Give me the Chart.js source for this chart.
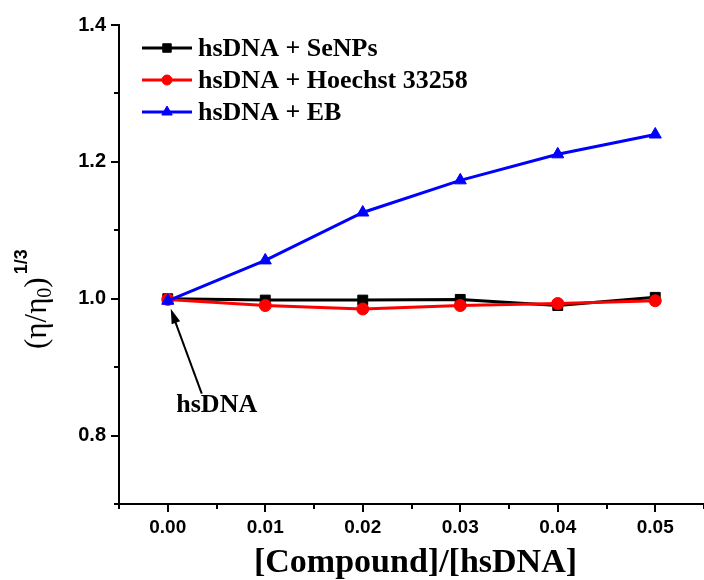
<!DOCTYPE html>
<html>
<head>
<meta charset="utf-8">
<script src="https://cdn.jsdelivr.net/npm/chart.js@4"></script>
<style>
  html, body { margin: 0; padding: 0; background: #fff; overflow: hidden; }
  #wrap { width: 712px; height: 580px; }
</style>
</head>
<body>
<div id="wrap"><canvas id="c" width="712" height="580"></canvas></div>
<script>
// ---- data ----
const ratios = [0.00, 0.01, 0.02, 0.03, 0.04, 0.05];
const seNPs = [1.000, 0.998, 0.998, 0.999, 0.990, 1.002];
const hoechst = [0.999, 0.990, 0.985, 0.990, 0.993, 0.997];
const eb = [0.997, 1.056, 1.126, 1.173, 1.211, 1.240];
const seriesNames = ['hsDNA + SeNPs', 'hsDNA + Hoechst 33258', 'hsDNA + EB'];
const xTickValues = [0.00, 0.01, 0.02, 0.03, 0.04, 0.05];
const xMinorValues = [-0.005, 0.005, 0.015, 0.025, 0.035, 0.045, 0.055];
const yTickValues = [0.8, 1.0, 1.2, 1.4];
const yMinorValues = [0.7, 0.9, 1.1, 1.3];
const xTitle = '[Compound]/[hsDNA]';
const annotationText = 'hsDNA';

const pts = (ys) => ratios.map((x, i) => ({ x: x, y: ys[i] }));

const serif = '"Liberation Serif", "Times New Roman", serif';
const sans = '"Liberation Sans", Arial, sans-serif';

const extras = {
  id: 'extras',
  afterDraw(chart) {
    const ctx = chart.ctx;
    const xs = chart.scales.x, ys = chart.scales.y;
    const area = chart.chartArea;
    ctx.save();
    // ticks
    ctx.strokeStyle = '#000';
    ctx.lineWidth = 2;
    ctx.beginPath();
    xTickValues.forEach(v => { const p = Math.round(xs.getPixelForValue(v)); ctx.moveTo(p, area.bottom); ctx.lineTo(p, area.bottom + 8); });
    xMinorValues.forEach(v => { const p = Math.round(xs.getPixelForValue(v)); ctx.moveTo(p, area.bottom); ctx.lineTo(p, area.bottom + 5); });
    yTickValues.forEach(v => { const p = Math.round(ys.getPixelForValue(v)); ctx.moveTo(area.left, p); ctx.lineTo(area.left - 8, p); });
    yMinorValues.forEach(v => { const p = Math.round(ys.getPixelForValue(v)); ctx.moveTo(area.left, p); ctx.lineTo(area.left - 5, p); });
    ctx.stroke();

    // y title (rotated, reads bottom to top)
    ctx.save();
    ctx.translate(46, 349);
    ctx.rotate(-Math.PI / 2);
    ctx.fillStyle = '#000';
    ctx.textBaseline = 'alphabetic';
    ctx.textAlign = 'left';
    const mainFont = '31px ' + serif;
    const subFont = '20px ' + serif;
    const supFont = 'bold 18px ' + sans;
    let cx = 0;
    const p1 = '(\u03B7/\u03B7';
    ctx.font = mainFont; ctx.fillText(p1, cx, 0); cx += ctx.measureText(p1).width;
    ctx.font = subFont; ctx.fillText('0', cx, 5); cx += ctx.measureText('0').width;
    ctx.font = mainFont; ctx.fillText(')', cx, 0); cx += ctx.measureText(')').width + 3;
    ctx.font = supFont; ctx.fillText('1/3', cx, -19);
    ctx.restore();

    // legend
    const ds = chart.data.datasets;
    const rowY = [48, 80, 112];
    ds.forEach((d, i) => {
      const y = rowY[i];
      ctx.strokeStyle = d.borderColor;
      ctx.lineWidth = 3;
      ctx.beginPath(); ctx.moveTo(142, y); ctx.lineTo(192, y); ctx.stroke();
      ctx.fillStyle = d.backgroundColor;
      ctx.strokeStyle = d.borderColor;
      ctx.lineWidth = 1;
      Chart.helpers.drawPoint(ctx, { pointStyle: d.pointStyle, radius: d.pointRadius - 1, borderWidth: 1 }, 167, y);
      ctx.fillStyle = '#000';
      ctx.font = 'bold 26px ' + serif;
      ctx.textAlign = 'left';
      ctx.textBaseline = 'middle';
      ctx.fillText(d.label, 198, y + 1);
    });

    // annotation arrow
    const ax = xs.getPixelForValue(0.0) + 3;
    const ay = ys.getPixelForValue(1.0) + 10;
    const tx = ax + 31, ty = ay + 85;
    ctx.strokeStyle = '#000';
    ctx.fillStyle = '#000';
    ctx.lineWidth = 2;
    ctx.beginPath(); ctx.moveTo(tx, ty); ctx.lineTo(ax + 3, ay + 9); ctx.stroke();
    const ang = Math.atan2(ay - ty, ax - tx);
    const hl = 15, hw = 4.5;
    ctx.beginPath();
    ctx.moveTo(ax, ay);
    ctx.lineTo(ax - hl * Math.cos(ang) + hw * Math.sin(ang), ay - hl * Math.sin(ang) - hw * Math.cos(ang));
    ctx.lineTo(ax - hl * Math.cos(ang) - hw * Math.sin(ang), ay - hl * Math.sin(ang) + hw * Math.cos(ang));
    ctx.closePath(); ctx.fill();
    ctx.font = 'bold 26px ' + serif;
    ctx.textAlign = 'center';
    ctx.textBaseline = 'alphabetic';
    ctx.fillText(annotationText, tx + 15, ty + 18);

    // x title
    ctx.font = 'bold 34px ' + serif;
    ctx.textAlign = 'center';
    ctx.textBaseline = 'alphabetic';
    ctx.fillText(xTitle, xs.getPixelForValue(0.025) + 4, 572);
    ctx.restore();
  }
};

new Chart(document.getElementById('c'), {
  type: 'line',
  data: {
    datasets: [
      { label: seriesNames[0], data: pts(seNPs), borderColor: '#000000', backgroundColor: '#000000', pointStyle: 'rect', pointRadius: 7, borderWidth: 3, pointBorderWidth: 1, order: 3 },
      { label: seriesNames[1], data: pts(hoechst), borderColor: '#ff0000', backgroundColor: '#ff0000', pointStyle: 'circle', pointRadius: 6, borderWidth: 3, pointBorderWidth: 1, order: 2 },
      { label: seriesNames[2], data: pts(eb), borderColor: '#0000ff', backgroundColor: '#0000ff', pointStyle: 'triangle', pointRadius: 7, borderWidth: 3, pointBorderWidth: 1, order: 1 }
    ]
  },
  options: {
    responsive: false,
    animation: false,
    clip: false,
    layout: { padding: { top: 21, left: 0, right: 1, bottom: 0 } },
    plugins: { legend: { display: false }, tooltip: { enabled: false } },
    scales: {
      x: {
        type: 'linear',
        min: -0.005, max: 0.055,
        afterBuildTicks: (s) => { s.ticks = xTickValues.map(v => ({ value: v })); },
        afterFit: (s) => { s.height = 76; },
        grid: { display: false, drawTicks: false },
        border: { display: true, color: '#000', width: 2 },
        ticks: { padding: 12, color: '#000', font: { family: sans, size: 19, weight: 'bold' }, callback: (v) => Number(v).toFixed(2), maxRotation: 0, autoSkip: false }
      },
      y: {
        type: 'linear',
        min: 0.7, max: 1.4,
        afterBuildTicks: (s) => { s.ticks = yTickValues.map(v => ({ value: v })); },
        afterFit: (s) => { s.width = 119; },
        grid: { display: false, drawTicks: false },
        border: { display: true, color: '#000', width: 2 },
        ticks: { padding: 13, color: '#000', font: { family: sans, size: 20, weight: 'bold' }, callback: (v) => Number(v).toFixed(1) }
      }
    }
  },
  plugins: [extras]
});
</script>
</body>
</html>
